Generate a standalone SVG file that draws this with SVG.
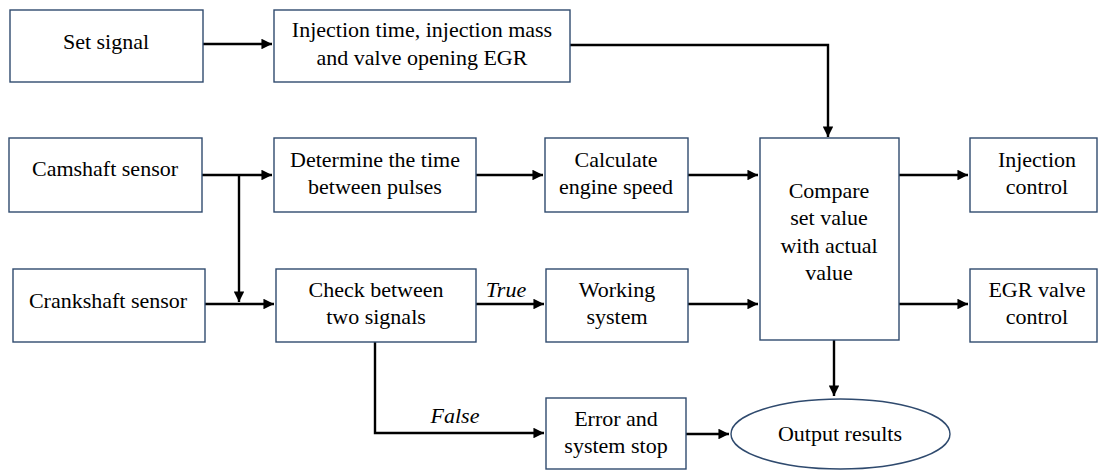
<svg xmlns="http://www.w3.org/2000/svg" width="1098" height="470" viewBox="0 0 1098 470">
<defs>
<style>
.box{fill:#fff;stroke:#2f4a6e;stroke-width:1.4}
.t{font-family:'Liberation Serif','Times New Roman',Times,'DejaVu Serif',serif;font-size:22px;fill:#000;text-anchor:middle}
.lbl{font-family:'Liberation Serif','Times New Roman',Times,'DejaVu Serif',serif;font-size:22px;font-style:italic;fill:#000;text-anchor:middle}
.c{fill:none;stroke:#000;stroke-width:2.4}
</style>
<marker id="ah" viewBox="0 0 10 10" refX="10" refY="5" markerWidth="4.4" markerHeight="4.4" markerUnits="strokeWidth" orient="auto">
<path d="M0,0 L10,5 L0,10 z" fill="#000"/>
</marker>
</defs>
<rect width="1098" height="470" fill="#fff"/>
<g id="connectors">
<path class="c" d="M203,44 H272" marker-end="url(#ah)"/>
<path class="c" d="M570,45 H828 V137" marker-end="url(#ah)"/>
<path class="c" d="M202,175 H272" marker-end="url(#ah)"/>
<path class="c" d="M239,175 V302" marker-end="url(#ah)"/>
<path class="c" d="M476,175 H543" marker-end="url(#ah)"/>
<path class="c" d="M688,175 H758" marker-end="url(#ah)"/>
<path class="c" d="M899,175 H968" marker-end="url(#ah)"/>
<path class="c" d="M205,304 H274" marker-end="url(#ah)"/>
<path class="c" d="M476,304 H544" marker-end="url(#ah)"/>
<path class="c" d="M688,304 H758" marker-end="url(#ah)"/>
<path class="c" d="M899,304 H968" marker-end="url(#ah)"/>
<path class="c" d="M375,342 V433 H544" marker-end="url(#ah)"/>
<path class="c" d="M834,340 V396" marker-end="url(#ah)"/>
<path class="c" d="M686,434 H729" marker-end="url(#ah)"/>
<text class="lbl" x="506" y="297" font-family="Liberation Serif, serif">True</text>
<text class="lbl" x="455" y="423" font-family="Liberation Serif, serif">False</text>
</g>
<g id="set-signal">
<rect class="box" x="10" y="10" width="193" height="72"/>
<text class="t" x="106" y="49">Set signal</text>
</g>
<g id="injection-setpoints">
<rect class="box" x="274" y="10" width="296" height="72"/>
<text class="t" x="422" y="37">Injection time, injection mass</text>
<text class="t" x="422" y="65">and valve opening EGR</text>
</g>
<g id="camshaft-sensor">
<rect class="box" x="9" y="138" width="193" height="74"/>
<text class="t" x="105" y="176">Camshaft sensor</text>
</g>
<g id="determine-time">
<rect class="box" x="274" y="138" width="202" height="74"/>
<text class="t" x="375" y="167">Determine the time</text>
<text class="t" x="375" y="194">between pulses</text>
</g>
<g id="calculate-speed">
<rect class="box" x="545" y="138" width="143" height="74"/>
<text class="t" x="616" y="167">Calculate</text>
<text class="t" x="616" y="194">engine speed</text>
</g>
<g id="compare">
<rect class="box" x="760" y="138" width="139" height="202"/>
<text class="t" x="829" y="198">Compare</text>
<text class="t" x="829" y="225">set value</text>
<text class="t" x="829" y="253">with actual</text>
<text class="t" x="829" y="280">value</text>
</g>
<g id="injection-control">
<rect class="box" x="970" y="138" width="127" height="74"/>
<text class="t" x="1037" y="167">Injection</text>
<text class="t" x="1037" y="194">control</text>
</g>
<g id="crankshaft-sensor">
<rect class="box" x="13" y="269" width="192" height="73"/>
<text class="t" x="108" y="308">Crankshaft sensor</text>
</g>
<g id="check-signals">
<rect class="box" x="276" y="269" width="200" height="73"/>
<text class="t" x="376" y="297">Check between</text>
<text class="t" x="376" y="324">two signals</text>
</g>
<g id="working-system">
<rect class="box" x="546" y="269" width="142" height="73"/>
<text class="t" x="617" y="297">Working</text>
<text class="t" x="617" y="324">system</text>
</g>
<g id="egr-control">
<rect class="box" x="970" y="269" width="127" height="73"/>
<text class="t" x="1037" y="297">EGR valve</text>
<text class="t" x="1037" y="324">control</text>
</g>
<g id="error-stop">
<rect class="box" x="546" y="398" width="140" height="71"/>
<text class="t" x="616" y="426">Error and</text>
<text class="t" x="616" y="453">system stop</text>
</g>
<g id="output-results">
<ellipse class="box" cx="840.5" cy="434" rx="109.5" ry="35"/>
<text class="t" x="840" y="441">Output results</text>
</g>
</svg>
